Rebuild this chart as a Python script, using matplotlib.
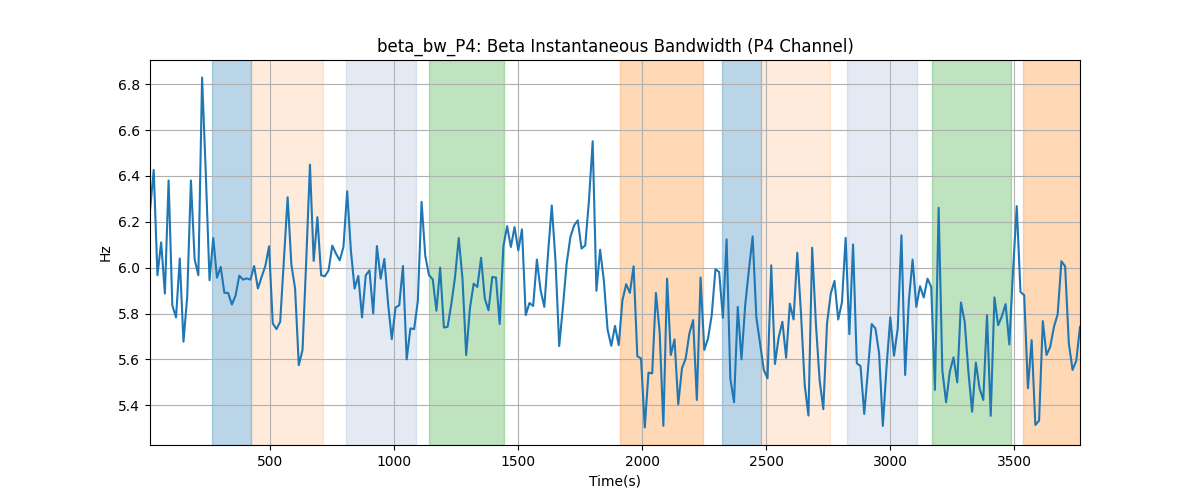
import numpy as np
import matplotlib
matplotlib.use("Agg")
import matplotlib.pyplot as plt

# tiempo (s): un punto cada 15 s
t_inicio = 15
t_paso = 15

beta_bw = [
    6.25, 6.426, 5.967, 6.11, 5.887, 6.38, 5.836, 5.783, 6.04, 5.677,
    5.872, 6.38, 6.036, 5.967, 6.829, 6.41, 5.945, 6.129, 5.956, 6.003,
    5.89, 5.89, 5.839, 5.878, 5.965, 5.948, 5.953, 5.948, 6.007, 5.909,
    5.959, 6.007, 6.093, 5.757, 5.732, 5.764, 6.032, 6.307, 6.014, 5.909,
    5.575, 5.641, 6.032, 6.449, 6.029, 6.22, 5.967, 5.962, 5.988, 6.096,
    6.061, 6.032, 6.09, 6.333, 6.075, 5.909, 5.964, 5.783, 5.967, 5.988,
    5.8, 6.094, 5.952, 6.038, 5.843, 5.688, 5.826, 5.836, 6.007, 5.6,
    5.735, 5.732, 5.855, 6.287, 6.051, 5.967, 5.949, 5.812, 6.0, 5.739,
    5.742, 5.841, 5.959, 6.129, 5.952, 5.619, 5.822,
    5.930, 5.916, 6.043, 5.865, 5.814, 5.959, 5.957, 5.754, 6.093, 6.181,
    6.09, 6.177, 6.075, 6.167, 5.793, 5.846, 5.833, 6.035, 5.901, 5.829,
    6.061, 6.271, 6.032, 5.658, 5.829, 6.017, 6.133, 6.184, 6.206, 6.083,
    6.097, 6.293, 6.551, 5.899, 6.078, 5.945, 5.730, 5.659, 5.746, 5.662,
    5.858, 5.928, 5.890, 6.006, 5.614, 5.604, 5.303, 5.542, 5.539, 5.890,
    5.720, 5.310, 5.952, 5.619, 5.687, 5.404, 5.561, 5.604, 5.713, 5.771,
    5.423, 5.957, 5.641, 5.691, 5.793, 5.993, 5.981, 5.781, 6.123, 5.517,
    5.413, 5.829, 5.6, 5.836, 5.991, 6.136, 5.783, 5.670, 5.554, 5.517,
    6.010, 5.580, 5.696, 5.764, 5.607, 5.843, 5.774, 6.065,
    5.8, 5.488, 5.355, 6.087, 5.757, 5.510, 5.383, 5.757, 5.887, 5.942,
    5.774, 5.848, 6.130, 5.710, 6.101, 5.583, 5.571, 5.362, 5.554, 5.754,
    5.735, 5.626, 5.310, 5.568, 5.783, 5.616, 5.735, 6.141, 5.532, 5.858,
    6.035, 5.829, 5.919, 5.870, 5.952, 5.916, 5.467, 6.261, 5.551, 5.413,
    5.546, 5.609, 5.500, 5.848, 5.764, 5.546, 5.372, 5.586, 5.474, 5.423,
    5.793, 5.354, 5.870, 5.749, 5.788, 5.841, 5.665, 5.986, 6.268, 5.894,
    5.880, 5.474, 5.684, 5.314, 5.333, 5.767, 5.619, 5.655, 5.742, 5.797,
    6.028, 6.006, 5.670, 5.554, 5.594, 5.742,
]

tiempo = t_inicio + t_paso * np.arange(len(beta_bw))

# bandas sombreadas (inicio, fin, color, alpha)
bandas_inicio = [266, 421, 805, 1140, 1910, 2322, 2477, 2826, 3169, 3535]
bandas_fin = [421, 711, 1086, 1444, 2246, 2477, 2757, 3106, 3485, 3800]
bandas_color = ["tab:blue", "tab:orange", "#4c72b0", "tab:green", "tab:orange",
                "tab:blue", "tab:orange", "#4c72b0", "tab:green", "tab:orange"]
bandas_alpha = [0.3, 0.15, 0.15, 0.3, 0.3, 0.3, 0.15, 0.15, 0.3, 0.3]

fig, ax = plt.subplots(figsize=(12, 5), dpi=100)

for a, b, c, al in zip(bandas_inicio, bandas_fin, bandas_color, bandas_alpha):
    ax.axvspan(a, b, color=c, alpha=al)

ax.plot(tiempo, beta_bw, color="tab:blue")
ax.set_xlim(tiempo[0], tiempo[-1])
ax.set_xlabel("Time(s)")
ax.set_ylabel("Hz")
ax.set_title("beta_bw_P4: Beta Instantaneous Bandwidth (P4 Channel)")
ax.grid(True)

fig.savefig("out.png")
